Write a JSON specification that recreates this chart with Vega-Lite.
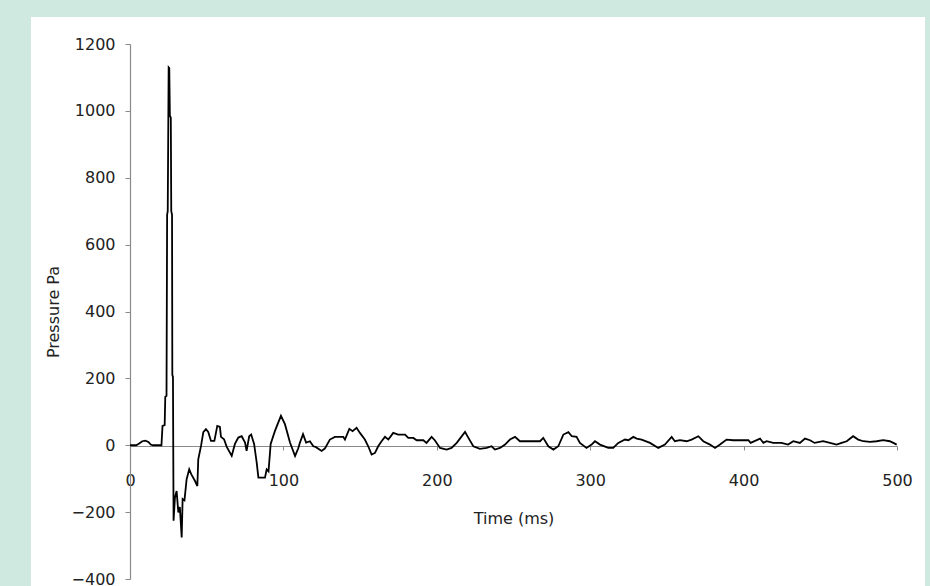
{
  "$schema": "https://vega.github.io/schema/vega-lite/v6.json",
  "width": 894,
  "height": 569,
  "autosize": {"type": "none"},
  "padding": {"left": 31, "top": 17, "right": 5, "bottom": 0},
  "background": "#cfe9e0",
  "view": {"fill": "white", "stroke": null},
  "config": {"font": "DejaVu Sans"},
  "data": {"values": [
    {"t":0,"p":0},{"t":4,"p":0},{"t":6,"p":5},{"t":8,"p":12},{"t":10,"p":14},{"t":12,"p":10},{"t":13.5,"p":2},{"t":15,"p":0},{"t":20.5,"p":0},
    {"t":21.2,"p":58},{"t":22.6,"p":60},{"t":23.0,"p":145},{"t":23.8,"p":148},{"t":24.2,"p":690},{"t":24.6,"p":700},{"t":25.2,"p":1130},{"t":25.6,"p":1128},
    {"t":26.0,"p":985},{"t":26.6,"p":980},{"t":26.9,"p":700},{"t":27.4,"p":690},{"t":27.6,"p":210},{"t":28.0,"p":205},{"t":28.4,"p":-226},
    {"t":29.3,"p":-156},{"t":30.4,"p":-137},{"t":31.5,"p":-201},{"t":32.5,"p":-185},{"t":33.7,"p":-276},{"t":34.3,"p":-161},{"t":35.5,"p":-165},
    {"t":36.9,"p":-102},{"t":38.6,"p":-72},{"t":40.0,"p":-87},{"t":42.4,"p":-107},{"t":43.9,"p":-122},{"t":44.5,"p":-42},{"t":46.3,"p":-2},
    {"t":47.8,"p":39},{"t":49.5,"p":48},{"t":51,"p":40},{"t":52.8,"p":13},{"t":55,"p":13},{"t":56.9,"p":58},{"t":58.6,"p":55},{"t":59.3,"p":25},
    {"t":61.3,"p":18},{"t":63,"p":-4},{"t":66.3,"p":-32},{"t":68.4,"p":4},{"t":70.6,"p":23},{"t":72.8,"p":27},{"t":75,"p":8},{"t":76,"p":-17},
    {"t":77.7,"p":27},{"t":79,"p":32},{"t":80.9,"p":4},{"t":82.6,"p":-52},{"t":83.7,"p":-97},{"t":88,"p":-97},{"t":89.1,"p":-72},{"t":90.3,"p":-78},
    {"t":91.7,"p":4},{"t":94.5,"p":43},{"t":98.4,"p":88},{"t":101,"p":63},{"t":104.3,"p":8},{"t":107.6,"p":-32},{"t":109.7,"p":-9},{"t":110.8,"p":8},
    {"t":112.8,"p":33},{"t":114.8,"p":8},{"t":117.3,"p":12},{"t":119.5,"p":-3},{"t":121,"p":-5},{"t":124.9,"p":-17},{"t":127,"p":-10},{"t":130.3,"p":17},
    {"t":133.6,"p":25},{"t":139,"p":25},{"t":140.1,"p":17},{"t":143,"p":49},{"t":145.1,"p":42},{"t":147.7,"p":52},{"t":149.9,"p":37},{"t":153.1,"p":17},
    {"t":155.3,"p":-3},{"t":157.5,"p":-28},{"t":159.7,"p":-23},{"t":161.8,"p":-3},{"t":164,"p":12},{"t":166.2,"p":25},{"t":168.4,"p":17},{"t":171.6,"p":37},
    {"t":174.8,"p":32},{"t":179.3,"p":32},{"t":181.4,"p":22},{"t":184.7,"p":22},{"t":186.9,"p":15},{"t":191.2,"p":15},{"t":193.3,"p":7},{"t":196.6,"p":25},
    {"t":198.7,"p":15},{"t":202.1,"p":-8},{"t":206.4,"p":-13},{"t":209.6,"p":-8},{"t":213,"p":7},{"t":218.4,"p":40},{"t":220.6,"p":22},{"t":223.8,"p":-3},
    {"t":228.1,"p":-11},{"t":232.5,"p":-8},{"t":235.7,"p":-3},{"t":237.9,"p":-13},{"t":241.2,"p":-8},{"t":244.5,"p":2},{"t":247.7,"p":17},{"t":251,"p":25},
    {"t":254.2,"p":12},{"t":267.3,"p":12},{"t":269.4,"p":22},{"t":272.7,"p":-3},{"t":276,"p":-13},{"t":279.2,"p":-3},{"t":282.5,"p":32},{"t":285.8,"p":39},
    {"t":288,"p":27},{"t":291.1,"p":25},{"t":293.3,"p":7},{"t":297.6,"p":-8},{"t":300.9,"p":2},{"t":303.1,"p":12},{"t":306.4,"p":2},{"t":311.8,"p":-8},
    {"t":315,"p":-8},{"t":318.3,"p":7},{"t":322.7,"p":17},{"t":324.9,"p":15},{"t":328.1,"p":25},{"t":330.3,"p":20},{"t":333.5,"p":17},{"t":339,"p":7},
    {"t":344.4,"p":-8},{"t":348.7,"p":2},{"t":353.1,"p":25},{"t":355.2,"p":12},{"t":358.5,"p":15},{"t":362.9,"p":12},{"t":366.1,"p":17},{"t":370.5,"p":27},
    {"t":373.7,"p":12},{"t":378.1,"p":2},{"t":381.4,"p":-8},{"t":384.6,"p":2},{"t":388.9,"p":17},{"t":393.3,"p":15},{"t":397.7,"p":15},{"t":403.1,"p":15},
    {"t":404.6,"p":7},{"t":410.7,"p":20},{"t":412.9,"p":7},{"t":415,"p":12},{"t":419.3,"p":7},{"t":424.7,"p":7},{"t":429,"p":2},{"t":432.4,"p":12},
    {"t":436.7,"p":7},{"t":440,"p":20},{"t":443.3,"p":15},{"t":446.3,"p":7},{"t":451.8,"p":12},{"t":456.3,"p":7},{"t":460.6,"p":2},{"t":463.9,"p":7},
    {"t":467.2,"p":12},{"t":471.4,"p":27},{"t":474.7,"p":17},{"t":478,"p":12},{"t":482.4,"p":10},{"t":486.7,"p":12},{"t":491,"p":15},{"t":495.3,"p":12},
    {"t":497.6,"p":7},{"t":499.8,"p":2}
  ]},
  "mark": {"type": "line", "color": "black", "strokeWidth": 1.8},
  "encoding": {
    "x": {
      "field": "t", "type": "quantitative",
      "scale": {"domain": [0, 500], "range": [99, 866], "nice": false, "zero": false},
      "axis": {
        "title": "Time (ms)", "offset": -140, "values": [0, 100, 200, 300, 400, 500], "format": "d",
        "grid": false, "domainColor": "#8a8a8a", "domainWidth": 1.2, "tickColor": "#8a8a8a", "tickSize": 4,
        "labelPadding": 22, "labelFontSize": 16, "labelColor": "#222", "labelOverlap": false, "labelFlush": false,
        "titleFontSize": 16, "titleFontWeight": "normal", "titleColor": "#222", "titlePadding": 22
      }
    },
    "y": {
      "field": "p", "type": "quantitative",
      "scale": {"domain": [-400, 1200], "range": [562, 27], "nice": false, "zero": false},
      "axis": {
        "title": "Pressure Pa", "offset": -99, "values": [-400, -200, 0, 200, 400, 600, 800, 1000, 1200], "format": "d",
        "grid": false, "domainColor": "#8a8a8a", "domainWidth": 1.2, "tickColor": "#8a8a8a", "tickSize": 5,
        "labelPadding": 10, "labelFontSize": 16, "labelColor": "#222", "labelOverlap": false, "labelFlush": false,
        "titleFontSize": 16, "titleFontWeight": "normal", "titleColor": "#222", "titlePadding": 10
      }
    }
  }
}
